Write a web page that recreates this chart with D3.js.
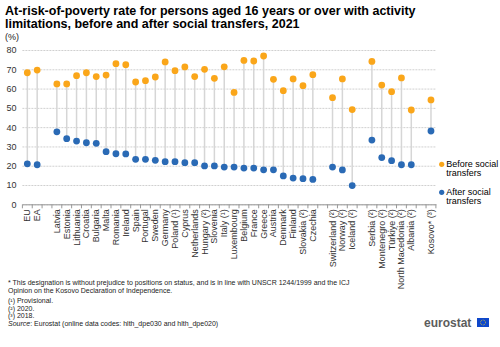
<!DOCTYPE html>
<html>
<head>
<meta charset="utf-8">
<script src="https://cdn.jsdelivr.net/npm/d3@7"></script>
<style>
  body { margin: 0; background: #fff; }
  text { font-family: "Liberation Sans", Arial, sans-serif; }
</style>
</head>
<body>
<div id="canvas"></div>
<script>
// null = empty slot between country groups
const categories = ["EU", "EA", null, "Latvia", "Estonia", "Lithuania", "Croatia", "Bulgaria", "Malta",
  "Romania", "Ireland", "Spain", "Portugal", "Sweden", "Germany", "Poland (\u00b9)", "Cyprus",
  "Netherlands", "Hungary (\u00b2)", "Slovenia", "Italy (\u00b9)", "Luxembourg", "Belgium", "France",
  "Greece", "Austria", "Denmark", "Finland", "Slovakia (\u00b2)", "Czechia", null,
  "Switzerland (\u00b2)", "Norway (\u00b2)", "Iceland (\u00b2)", null, "Serbia (\u00b2)",
  "Montenegro (\u00b2)", "T\u00fcrkiye (\u00b2)", "North Macedonia (\u00b2)", "Albania (\u00b2)", null,
  "Kosovo* (\u00b3)"];
const beforeTransfers = [68.2, 69.6, null, 62.4, 62.4, 66.7, 68.2, 66.2, 67.0, 72.9, 72.4, 63.4, 64.1,
  66.0, 73.8, 69.3, 71.2, 66.2, 70.0, 65.3, 71.3, 58.0, 74.6, 74.3, 76.9, 64.8, 58.9, 65.0, 61.5, 67.2,
  null, 55.3, 65.0, 49.1, null, 74.1, 61.8, 58.4, 65.5, 48.9, null, 54.1];
const afterTransfers = [21.0, 20.5, null, 37.6, 34.0, 32.8, 31.9, 31.6, 27.3, 26.2, 26.1, 23.3, 23.3,
  22.8, 22.1, 22.1, 21.6, 21.6, 19.9, 19.9, 19.3, 19.3, 18.8, 18.8, 17.9, 17.9, 14.7, 13.6, 13.3, 12.9,
  null, 19.3, 17.8, 9.7, null, 33.3, 24.2, 22.6, 20.5, 20.5, null, 38.0];
const yTicks = [0, 10, 20, 30, 40, 50, 60, 70, 80];
const seriesNames = ["Before social transfers", "After social transfers"];
const titleLines = ["At-risk-of-poverty rate for persons aged 16 years or over with activity",
  "limitations, before and after social transfers, 2021"];
const notes = [
  "* This designation is without prejudice to positions on status, and is in line with UNSCR 1244/1999 and the ICJ",
  "Opinion on the Kosovo Declaration of Independence.",
  "(\u00b9) Provisional.",
  "(\u00b2) 2020.",
  "(\u00b3) 2018."
];

const orange = "#faa61a";
const blue = "#2a6ab5";

const width = 500, height = 347;
const svg = d3.select("#canvas").append("svg")
  .attr("width", width)
  .attr("height", height);

// title
svg.append("g").selectAll("text").data(titleLines).enter().append("text")
  .attr("x", 5)
  .attr("y", (d, i) => 15 + i * 12.5)
  .attr("font-size", "12.5px")
  .attr("font-weight", "bold")
  .attr("fill", "#000")
  .text(d => d);

svg.append("text").attr("x", 5).attr("y", 40)
  .attr("font-size", "9px").attr("fill", "#222").text("(%)");

var x = d3.scaleBand().domain(d3.range(categories.length)).range([22.4, 435.9]);
var y = d3.scaleLinear().domain([0, 80]).range([204.3, 50]);

// gridlines + y labels
var yAxis = svg.append("g").attr("transform", "translate(22.4,0)")
  .call(d3.axisLeft(y).tickValues(yTicks).tickSize(-(435.9 - 22.4)).tickPadding(6));
yAxis.select(".domain").remove();
yAxis.selectAll(".tick line").attr("stroke", "#d0d0d0").attr("stroke-dasharray", "2,1");
yAxis.selectAll(".tick text").attr("font-size", "9px").attr("fill", "#333")
  .attr("font-family", "Liberation Sans, Arial, sans-serif");

// x axis
var xAxis = svg.append("g").attr("transform", "translate(0," + y(0) + ")")
  .call(d3.axisBottom(x).tickValues([]).tickSizeOuter(0));
xAxis.select(".domain").attr("stroke", "#999");
xAxis.selectAll(".bt").data(d3.range(categories.length + 1)).enter().append("line")
  .attr("x1", d => 22.4 + d * x.step()).attr("x2", d => 22.4 + d * x.step())
  .attr("y1", 0).attr("y2", 4).attr("stroke", "#999");

var idx = d3.range(categories.length).filter(i => categories[i] !== null);

svg.append("g").selectAll("text").data(idx).enter().append("text")
  .attr("transform", i => "translate(" + (x(i) + x.bandwidth() / 2 + 3) + "," + (y(0) + 5) + ") rotate(-90)")
  .attr("text-anchor", "end")
  .attr("font-size", "9px")
  .attr("fill", "#333")
  .text(i => categories[i]);

// stems
svg.append("g").selectAll("line").data(idx).enter().append("line")
  .attr("x1", i => x(i) + x.bandwidth() / 2).attr("x2", i => x(i) + x.bandwidth() / 2)
  .attr("y1", i => y(beforeTransfers[i])).attr("y2", i => y(afterTransfers[i]))
  .attr("stroke", "#d6d6d6").attr("stroke-width", 1.5);

svg.append("g").selectAll("circle").data(idx).enter().append("circle")
  .attr("cx", i => x(i) + x.bandwidth() / 2).attr("cy", i => y(afterTransfers[i]))
  .attr("r", 3.4).attr("fill", blue);
svg.append("g").selectAll("circle").data(idx).enter().append("circle")
  .attr("cx", i => x(i) + x.bandwidth() / 2).attr("cy", i => y(beforeTransfers[i]))
  .attr("r", 3.4).attr("fill", orange);

// legend
var legend = svg.append("g").selectAll("g").data(seriesNames).enter().append("g")
  .attr("transform", (d, i) => "translate(441.7," + (164.3 + i * 28) + ")");
legend.append("circle").attr("r", 2.6).attr("fill", (d, i) => i === 0 ? orange : blue);
legend.append("text").attr("x", 4.5).attr("y", 3).attr("font-size", "9px").attr("fill", "#000")
  .text(d => d.split(" ").slice(0, 2).join(" "));
legend.append("text").attr("x", 4.5).attr("y", 11.5).attr("font-size", "9px").attr("fill", "#000")
  .text(d => d.split(" ").slice(2).join(" "));

// notes
svg.append("g").selectAll("text").data(notes).enter().append("text")
  .attr("x", 8)
  .attr("y", (d, i) => [285, 292.5, 303, 310.5, 318][i])
  .attr("font-size", "7px").attr("fill", "#222")
  .text(d => d);

var src = svg.append("text").attr("x", 8).attr("y", 325.5).attr("font-size", "7px").attr("fill", "#222");
src.append("tspan").attr("font-style", "italic").text("Source");
src.append("tspan").text(": Eurostat (online data codes: hlth_dpe030 and hlth_dpe020)");

// eurostat logo
svg.append("text").attr("x", 424).attr("y", 327).attr("font-size", "12px").attr("font-weight", "bold")
  .attr("fill", "#5c5c5c").text("eurostat");
svg.append("rect").attr("x", 477).attr("y", 318).attr("width", 12).attr("height", 9).attr("fill", "#0e47cb");
svg.append("circle").attr("cx", 483).attr("cy", 322.5).attr("r", 2.5).attr("fill", "none")
  .attr("stroke", "#ffd617").attr("stroke-width", 0.8).attr("stroke-dasharray", "0.8,0.8");
</script>
</body>
</html>
